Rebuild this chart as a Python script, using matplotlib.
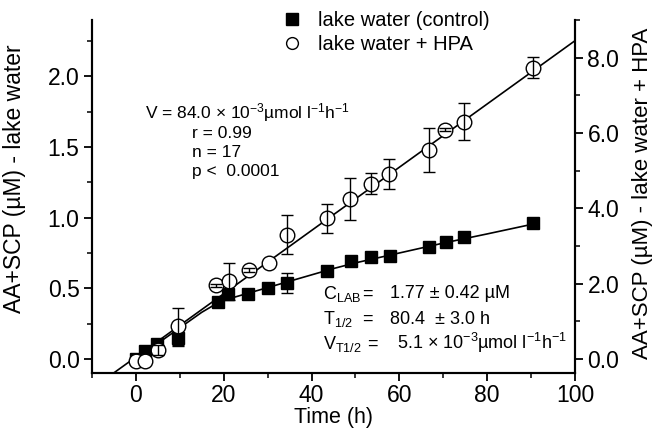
import matplotlib
matplotlib.use('Agg')
import matplotlib.pyplot as plt
import numpy as np
from matplotlib.ticker import MultipleLocator, FormatStrFormatter
from matplotlib.lines import Line2D

plt.rcParams['font.family'] = ['Liberation Sans', 'DejaVu Sans']
plt.rcParams['mathtext.default'] = 'regular'

# ---- data ----
t_ctrl = [0, 2, 4.8, 9.5, 18.6, 21, 25.6, 30, 34.5, 43.5, 49, 53.6, 57.8, 66.8, 70.7, 74.8, 90.5]
y_ctrl = [0.0, 0.055, 0.105, 0.15, 0.40, 0.46, 0.46, 0.50, 0.54, 0.62, 0.69, 0.72, 0.73, 0.79, 0.83, 0.86, 0.96]
e_ctrl = [0, 0, 0, 0.06, 0, 0, 0, 0, 0.07, 0, 0, 0, 0, 0, 0, 0, 0]

t_hpa = [0, 2, 5, 9.5, 18.2, 21.2, 25.8, 30.3, 34.5, 43.5, 48.7, 53.5, 57.7, 66.8, 70.3, 74.8, 90.5]
y_hpa = [-0.06, -0.05, 0.24, 0.86, 1.95, 2.06, 2.36, 2.55, 3.30, 3.73, 4.24, 4.65, 4.91, 5.55, 6.09, 6.30, 7.73]
e_hpa = [0, 0, 0.13, 0.49, 0.05, 0.49, 0.05, 0, 0.51, 0.39, 0.56, 0.28, 0.39, 0.58, 0.05, 0.49, 0.28]

# saturation fit of the control series
fit_ctrl_t = [0, 5, 10, 15, 18, 20, 25, 30, 35, 40, 45, 50, 60, 70, 80, 90.5]
fit_ctrl_y = [0.0, 0.11, 0.22, 0.33, 0.385, 0.415, 0.46, 0.505, 0.55, 0.595, 0.64, 0.68, 0.75, 0.82, 0.885, 0.955]

# linear fit of the HPA series: V = 84.0e-3 umol/l/h
hpa_slope = 0.084
hpa_intercept = 0.05
fit_hpa_t = np.array([-10, 100])

# ---- figure ----
W, H = 656, 436
fig = plt.figure(figsize=(W / 100, H / 100), dpi=100)
ax = fig.add_axes([92 / W, 63 / H, 483 / W, 353 / H])
ax2 = ax.twinx()

LW = 1.2
# control series (left axis)
ax.plot(fit_ctrl_t, fit_ctrl_y, color='black', lw=LW, zorder=2)
ax.plot(t_ctrl, y_ctrl, linestyle='none', marker='s', ms=9, mfc='black', mec='black', zorder=3)
ec = np.array(e_ctrl)
m = ec > 0
ax.errorbar(np.array(t_ctrl)[m], np.array(y_ctrl)[m], yerr=ec[m], fmt='none',
            ecolor='black', elinewidth=1.0, capsize=4, capthick=1.0, zorder=2.5)

# HPA series (right axis)
ax2.plot(fit_hpa_t, hpa_slope * fit_hpa_t + hpa_intercept, color='black', lw=LW, zorder=2)
ax2.plot(t_hpa, y_hpa, linestyle='none', marker='o', ms=10.5, mfc='white', mec='black',
         mew=1.0, zorder=3)
eh = np.array(e_hpa)
m2 = eh > 0
ax2.errorbar(np.array(t_hpa)[m2], np.array(y_hpa)[m2], yerr=eh[m2], fmt='none',
             ecolor='black', elinewidth=1.0, capsize=4, capthick=1.0, zorder=4)

# axes limits / ticks
ax.set_xlim(-10, 100)
ax.set_ylim(-0.1, 2.4)
ax2.set_ylim(-0.375, 9.0)

ax.xaxis.set_major_locator(MultipleLocator(20))
ax.xaxis.set_minor_locator(MultipleLocator(10))
ax.yaxis.set_major_locator(MultipleLocator(0.5))
ax.yaxis.set_minor_locator(MultipleLocator(0.25))
ax.yaxis.set_major_formatter(FormatStrFormatter('%.1f'))
ax2.yaxis.set_major_locator(MultipleLocator(2))
ax2.yaxis.set_minor_locator(MultipleLocator(1))
ax2.yaxis.set_major_formatter(FormatStrFormatter('%.1f'))

for a in (ax, ax2):
    a.spines['top'].set_visible(False)
    for s in a.spines.values():
        s.set_linewidth(1.5)
    a.tick_params(which='major', direction='out', length=6, width=1.3, labelsize=16.5, pad=3)
    a.tick_params(which='minor', direction='out', length=3.5, width=1.1)
ax.tick_params(axis='x', which='major', pad=2)
ax.tick_params(axis='y', which='both', right=False)
ax2.tick_params(axis='y', which='both', left=False)

ax.set_xlabel('Time (h)', fontsize=15.5)
ax.xaxis.set_label_coords(0.5, -0.097)
ax.set_ylabel('AA+SCP (µM) - lake water', fontsize=16.5)
ax.yaxis.set_label_coords(-0.137, 0.55)
ax2.set_ylabel('AA+SCP (µM) - lake water + HPA', fontsize=16)
ax2.yaxis.set_label_coords(1.118, 0.51)

# legend
handles = [Line2D([], [], linestyle='none', marker='s', ms=8, mfc='black', mec='black'),
           Line2D([], [], linestyle='none', marker='o', ms=8.5, mfc='white', mec='black')]
labels = ['lake water (control)', 'lake water + HPA']
ax2.legend(handles, labels, loc='upper left', bbox_to_anchor=((282 - 92) / 483, (373 - 11) / 353),
           frameon=False, fontsize=14.5, handlelength=1.0, handletextpad=0.8,
           labelspacing=0.25, borderpad=0, borderaxespad=0)

# annotations
def P(px, py):
    return ((px - 92) / 483, (373 - py) / 353)

fs1 = 12.5
ax2.text(*P(145, 118), 'V = 84.0 × 10$^{-3}$µmol l$^{-1}$h$^{-1}$', transform=ax.transAxes,
         fontsize=fs1, ha='left', va='baseline')
ax2.text(*P(192, 138), 'r = 0.99', transform=ax.transAxes, fontsize=fs1, ha='left', va='baseline')
ax2.text(*P(192, 157), 'n = 17', transform=ax.transAxes, fontsize=fs1, ha='left', va='baseline')
ax2.text(*P(192, 176), 'p <  0.0001', transform=ax.transAxes, fontsize=fs1, ha='left', va='baseline')

fs2 = 13
ax2.text(*P(323, 298.5), 'C$_{LAB}$', transform=ax.transAxes, fontsize=fs2, ha='left', va='baseline')
ax2.text(*P(362, 298.5), '=', transform=ax.transAxes, fontsize=fs2, ha='left', va='baseline')
ax2.text(*P(390, 298.5), '1.77 ± 0.42 µM', transform=ax.transAxes, fontsize=fs2, ha='left', va='baseline')
ax2.text(*P(323, 323.5), 'T$_{1/2}$', transform=ax.transAxes, fontsize=fs2, ha='left', va='baseline')
ax2.text(*P(362, 323.5), '=', transform=ax.transAxes, fontsize=fs2, ha='left', va='baseline')
ax2.text(*P(390, 323.5), '80.4  ± 3.0 h', transform=ax.transAxes, fontsize=fs2, ha='left', va='baseline')
ax2.text(*P(323, 348.5), 'V$_{T1/2}$', transform=ax.transAxes, fontsize=fs2, ha='left', va='baseline')
ax2.text(*P(367, 348.5), '=', transform=ax.transAxes, fontsize=fs2, ha='left', va='baseline')
ax2.text(*P(397, 348.5), '5.1 × 10$^{-3}$µmol l$^{-1}$h$^{-1}$', transform=ax.transAxes,
         fontsize=fs2, ha='left', va='baseline')

fig.savefig('out.png', dpi=100)
